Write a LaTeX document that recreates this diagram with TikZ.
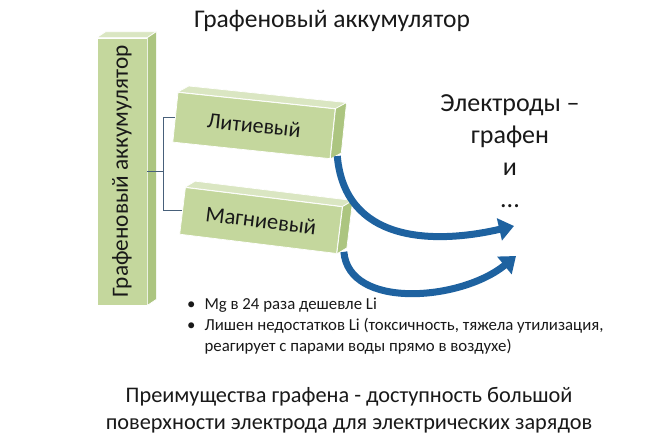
\documentclass[tikz,border=0pt]{standalone}
\usepackage{fontspec}
\setmainfont{Carlito}
\usetikzlibrary{arrows.meta,calc}

\definecolor{boxfront}{RGB}{196,215,157}
\definecolor{boxside}{RGB}{172,197,128}
\definecolor{boxtop}{RGB}{218,230,194}
\definecolor{arrblue}{RGB}{30,98,160}
\definecolor{brkline}{RGB}{72,96,122}
\definecolor{ink}{RGB}{25,25,25}

\begin{document}
\begin{tikzpicture}[x=1pt,y=-1pt,
    font=\fontsize{22}{26}\selectfont, text=ink,
    front/.style={fill=boxfront, draw=white, line width=.7, inner sep=0pt},
    topface/.style={fill=boxtop, draw=white, line width=.7},
    sideface/.style={fill=boxside, draw=white, line width=.7},
    brk/.style={draw=brkline, line width=.8},
    bluearr/.style={draw=arrblue, line width=7, -{Triangle[length=15,width=22]}}]
   \fill[white] (0,0) rectangle (671,439);
   \useasboundingbox (0,0) rectangle (671,439);
   % title
   \node[font=\fontsize{25.5}{30}\selectfont] (title) at (332,21) {Графеновый аккумулятор};
   % vertical bar
   \node[front, minimum width=50, minimum height=267] (bar) at (122,171.5)
      {\rotatebox{90}{\fontsize{23.3}{28}\selectfont Графеновый аккумулятор}};
   \filldraw[topface] (bar.north west) -- (bar.north east) -- ++(9,-6) -- ($(bar.north west)+(9,-6)$) -- cycle;
   \filldraw[sideface] (bar.north east) -- ++(9,-6) -- ($(bar.south east)+(9,-6)$) -- (bar.south east) -- cycle;
   % Li
   \node[front, minimum width=158, minimum height=50, rotate=-6] (lit) at (254,125.5) {Литиевый};
   \filldraw[topface] (lit.north west) -- (lit.north east) -- ++(11,-6) -- ($(lit.north west)+(11,-6)$) -- cycle;
   \filldraw[sideface] (lit.north east) -- ++(11,-6) -- ($(lit.south east)+(11,-6)$) -- (lit.south east) -- cycle;
   % Mg
   \node[front, minimum width=158, minimum height=47, rotate=-7, font=\fontsize{22.5}{26}\selectfont] (mag) at (261,220.5) {Магниевый};
   \filldraw[topface] (mag.north west) -- (mag.north east) -- ++(10,-6) -- ($(mag.north west)+(10,-6)$) -- cycle;
   \filldraw[sideface] (mag.north east) -- ++(10,-6) -- ($(mag.south east)+(10,-6)$) -- (mag.south east) -- cycle;
   % bracket
   \draw[brk] (lit.west) -- ++(-12,0) coordinate (bj) |- (mag.west);
   \draw[brk] (bar.east) -- (bar.east -| bj);
   % electrodes
   \node[font=\fontsize{26}{32}\selectfont, align=center] (electr) at (510,151) {Электроды –\\графен\\и\\...};
   \coordinate (endA) at (514,226);
   \coordinate (endB) at (516,256);
   \draw[bluearr] ($(lit.south east)+(7,-3)$) to[out=-85,in=-167,looseness=1.15] (endA);
   \draw[bluearr] ($(mag.south east)+(7,-2)$) .. controls +(5,58) and +(-55,45) .. (endB);
   % notes
   \node[anchor=north west, inner sep=0pt, align=left, font=\fontsize{16.8}{21}\selectfont] (notes) at (187,298)
      {\textbullet\hspace{9pt}Mg в 24 раза дешевле Li\\
       \textbullet\hspace{9pt}Лишен недостатков Li (токсичность, тяжела утилизация,\\
       \hphantom{\textbullet\hspace{9pt}}реагирует с парами воды прямо в воздухе)};
   % advantages
   \node[align=center, font=\fontsize{22.3}{27}\selectfont] (adv) at (349,410)
      {Преимущества графена - доступность большой\\поверхности электрода для электрических зарядов};
\end{tikzpicture}
\end{document}
